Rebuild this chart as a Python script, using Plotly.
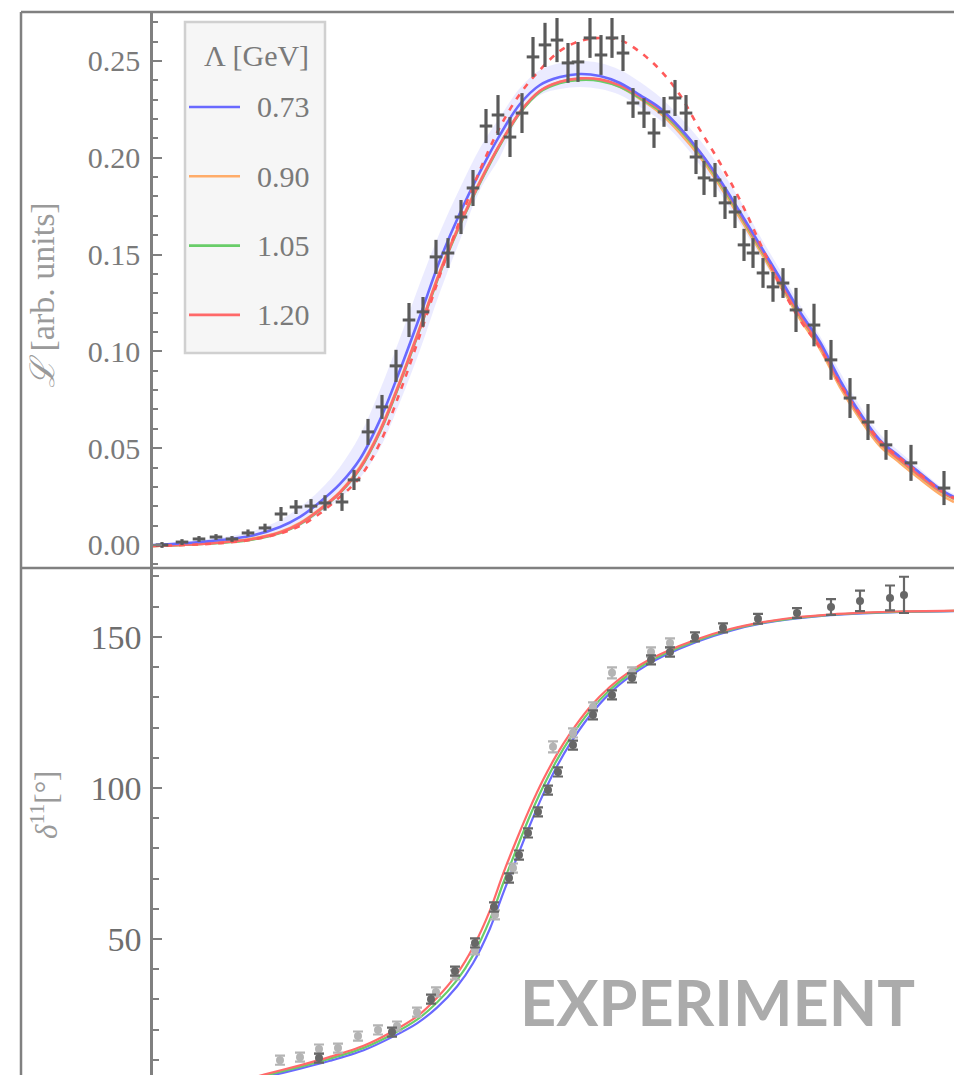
import plotly.graph_objects as go

# ---------------- top panel : line shape ----------------
E_top = [9, 29, 46, 63, 79, 95, 112, 128, 143, 158,
         172, 189, 201, 215, 229, 243, 256, 270, 283, 295,
         308, 320, 333, 345, 357, 369, 380, 392, 404, 415,
         425, 437, 448, 459, 470, 480, 491, 501, 511, 522,
         533, 543, 551, 562, 572, 582, 591, 600, 610, 620,
         630, 643, 661, 678, 697, 715, 733, 758, 791]
L_top = [0.0000, 0.0015, 0.0031, 0.0041, 0.0031, 0.0062, 0.0088, 0.0160, 0.0196, 0.0201,
         0.0217, 0.0222, 0.0336, 0.0584, 0.0713, 0.0925, 0.1162, 0.1204, 0.1488, 0.1508,
         0.1694, 0.1844, 0.2164, 0.2221, 0.2107, 0.2231, 0.2521, 0.2583, 0.2608, 0.2490,
         0.2495, 0.2619, 0.2531, 0.2619, 0.2541, 0.2283, 0.2231, 0.2128, 0.2237, 0.2309,
         0.2231, 0.2004, 0.1896, 0.1885, 0.1767, 0.1720, 0.1550, 0.1508, 0.1405, 0.1333,
         0.1353, 0.1214, 0.1136, 0.0956, 0.0759, 0.0635, 0.0517, 0.0424, 0.0294]
L_err = [0.0015, 0.0015, 0.0015, 0.0015, 0.0015, 0.0018, 0.0022, 0.0036, 0.0036, 0.0036,
         0.0040, 0.0046, 0.0052, 0.0067, 0.0062, 0.0083, 0.0088, 0.0077, 0.0088, 0.0077,
         0.0088, 0.0093, 0.0088, 0.0103, 0.0103, 0.0103, 0.0103, 0.0114, 0.0114, 0.0103,
         0.0103, 0.0103, 0.0103, 0.0103, 0.0093, 0.0077, 0.0077, 0.0077, 0.0077, 0.0093,
         0.0093, 0.0088, 0.0088, 0.0088, 0.0083, 0.0083, 0.0083, 0.0077, 0.0077, 0.0077,
         0.0077, 0.0114, 0.0110, 0.0103, 0.0103, 0.0093, 0.0077, 0.0093, 0.0088]

E_curve = [0, 47, 97, 127, 147, 167, 187, 207, 227, 247, 267, 287, 307, 327, 347, 367, 387, 407, 427,
           447, 467, 487, 507, 527, 547, 567, 587, 607, 627, 647, 667, 687, 707, 727, 747, 767, 787, 801]
L_073 = [0.0000, 0.0015, 0.0046, 0.0093, 0.0145, 0.0222, 0.0315, 0.0444, 0.0646, 0.0904, 0.1183, 0.1472,
         0.1715, 0.1927, 0.2118, 0.2278, 0.2376, 0.2417, 0.2433, 0.2422, 0.2386, 0.2324, 0.2257, 0.2154,
         0.2030, 0.1885, 0.1720, 0.1550, 0.1379, 0.1204, 0.1049, 0.0852, 0.0682, 0.0542, 0.0455, 0.0372,
         0.0289, 0.0248]
L_073_hi = [0.0005, 0.0026, 0.0067, 0.0129, 0.0196, 0.0284, 0.0403, 0.0568, 0.0801, 0.1069, 0.1353, 0.1617,
            0.1844, 0.2051, 0.2211, 0.2361, 0.2454, 0.2490, 0.2500, 0.2490, 0.2454, 0.2392, 0.2314, 0.2211,
            0.2092, 0.1947, 0.1782, 0.1596, 0.1420, 0.1240, 0.1080, 0.0894, 0.0718, 0.0573, 0.0480, 0.0393,
            0.0305, 0.0263]
L_073_lo = [-0.0005, 0.0005, 0.0026, 0.0062, 0.0098, 0.0165, 0.0243, 0.0346, 0.0501, 0.0739, 0.1007, 0.1307,
            0.1575, 0.1834, 0.2004, 0.2221, 0.2324, 0.2355, 0.2366, 0.2355, 0.2324, 0.2262, 0.2195, 0.2092,
            0.1963, 0.1818, 0.1658, 0.1493, 0.1327, 0.1162, 0.1012, 0.0811, 0.0646, 0.0511, 0.0429, 0.0351,
            0.0274, 0.0232]
L_090 = [-0.0005, 0.0005, 0.0031, 0.0067, 0.0114, 0.0186, 0.0274, 0.0403, 0.0594, 0.0847, 0.1126, 0.1415,
         0.1663, 0.1880, 0.2071, 0.2237, 0.2345, 0.2392, 0.2407, 0.2402, 0.2366, 0.2304, 0.2231, 0.2128,
         0.2004, 0.1854, 0.1689, 0.1519, 0.1343, 0.1167, 0.1012, 0.0816, 0.0651, 0.0511, 0.0424, 0.0341,
         0.0263, 0.0222]
L_105 = [-0.0005, 0.0005, 0.0026, 0.0062, 0.0108, 0.0181, 0.0269, 0.0393, 0.0584, 0.0837, 0.1116, 0.1405,
         0.1653, 0.1870, 0.2066, 0.2231, 0.2340, 0.2386, 0.2402, 0.2397, 0.2366, 0.2309, 0.2242, 0.2144,
         0.2020, 0.1870, 0.1705, 0.1534, 0.1358, 0.1183, 0.1028, 0.0832, 0.0666, 0.0527, 0.0439, 0.0356,
         0.0279, 0.0238]
L_120 = [-0.0005, 0.0005, 0.0028, 0.0064, 0.0110, 0.0183, 0.0271, 0.0396, 0.0589, 0.0842, 0.1121, 0.1410,
         0.1658, 0.1875, 0.2070, 0.2236, 0.2346, 0.2393, 0.2410, 0.2405, 0.2374, 0.2317, 0.2250, 0.2152,
         0.2028, 0.1878, 0.1712, 0.1540, 0.1362, 0.1186, 0.1030, 0.0834, 0.0667, 0.0528, 0.0440, 0.0357,
         0.0280, 0.0239]

E_dash = [0, 97, 147, 187, 207, 227, 247, 267, 287, 307, 327, 347, 367, 387, 407, 427, 447, 467,
          487, 507, 527, 547, 567, 587, 607, 627, 647, 667, 687, 707, 727, 747, 767, 787, 801]
L_dash = [-0.0005, 0.0026, 0.0098, 0.0248, 0.0351, 0.0527, 0.0790, 0.1085, 0.1395, 0.1679,
          0.1937, 0.2159, 0.2330, 0.2454, 0.2552, 0.2603, 0.2619, 0.2608, 0.2546, 0.2454,
          0.2324, 0.2144, 0.1973, 0.1782, 0.1560, 0.1343, 0.1162, 0.1018, 0.0832, 0.0677,
          0.0537, 0.0449, 0.0367, 0.0284, 0.0243]

# ---------------- bottom panel : phase shift ----------------
E_phase = [87, 112, 147, 177, 210, 240, 264, 284, 304, 320, 337, 350, 364, 377, 390,
           404, 417, 437, 457, 477, 497, 510, 544, 577, 610, 644, 677, 710, 744, 801]
d_073 = [2.2, 4.3, 7.1, 9.7, 13.1, 17.7, 22.1, 27.3, 34.3, 42.0, 53.5, 65.0, 77.0, 87.8, 97.8,
         107.2, 114.6, 124.0, 131.4, 136.9, 141.3, 143.6, 148.4, 152.0, 154.5, 156.1, 157.2, 157.8, 158.2, 158.5]
d_105 = [2.6, 4.8, 7.7, 10.4, 13.9, 18.6, 23.3, 29.0, 36.4, 44.6, 56.5, 68.3, 80.2, 90.8, 100.3,
         109.3, 116.4, 125.5, 132.5, 137.8, 142.0, 144.2, 148.8, 152.3, 154.7, 156.3, 157.3, 157.9, 158.3, 158.6]
d_120 = [3.0, 5.2, 8.2, 11.0, 14.6, 19.5, 24.4, 30.6, 38.5, 47.2, 59.5, 71.5, 83.2, 93.4, 102.6,
         111.2, 118.0, 126.8, 133.5, 138.6, 142.6, 144.7, 149.2, 152.6, 154.9, 156.5, 157.4, 158.0, 158.4, 158.7]

E_dark = [166, 239, 278, 302, 322, 341, 356, 366, 375, 385, 395, 405, 420, 440, 459, 479, 498,
          517, 542, 570, 605, 644, 678, 707, 737, 751]
d_dark = [10.6, 19.2, 30.1, 39.4, 48.7, 60.6, 70.2, 77.8, 85.1, 92.1, 99.3, 105.3, 114.2, 124.2,
          130.8, 136.4, 142.4, 145.0, 150.0, 153.0, 156.0, 157.9, 159.9, 161.9, 162.9, 163.9]
d_dark_err = [1.5, 1.5, 1.5, 1.5, 1.5, 1.5, 1.5, 1.5, 1.5, 1.5, 1.5, 1.5, 1.5, 1.5,
              1.5, 1.5, 1.5, 1.5, 1.5, 1.5, 1.6, 1.6, 2.6, 3.4, 4.1, 6.0]

E_light = [127, 147, 166, 185, 205, 225, 244, 264, 283, 302, 322, 342, 360, 400, 420, 440, 459, 479, 498, 517]
d_light = [9.9, 10.9, 13.6, 13.9, 17.9, 19.9, 21.2, 25.8, 32.5, 38.1, 46.4, 58.0, 73.5, 113.6,
           118.2, 126.8, 138.1, 138.4, 145.0, 148.0]
d_light_err = [1.5, 1.5, 1.5, 1.5, 1.5, 1.5, 1.5, 1.5, 1.5, 1.5, 1.5, 1.5, 1.5, 1.8,
               1.5, 1.5, 1.8, 1.5, 1.5, 1.5]

LEGEND_TITLE = "Λ [GeV]"
LAMBDAS = ["0.73", "0.90", "1.05", "1.20"]

# ---------------- styling ----------------
W, H = 954, 1075
ML, MT = 153, 12
PW, PH = W - ML, H - MT
SPLIT = 507 / PH            # bottom panel fraction
BLUE = "rgb(105,105,255)"
ORANGE = "rgb(255,172,105)"
GREEN = "rgb(105,205,105)"
RED = "rgb(255,105,105)"
COLORS = [BLUE, ORANGE, GREEN, RED]
AX = "#808080"
SERIF = "Liberation Serif, DejaVu Serif, serif"
PT = "#5a5a5a"
TXT = "#7a7a7a"


def px(xp):   # pixel column -> paper x
    return (xp - ML) / PW


def py(yp):   # pixel row -> paper y
    return (H - yp) / PH


fig = go.Figure()

# uncertainty band
fig.add_trace(go.Scatter(x=E_curve, y=L_073_hi, mode="lines", line=dict(width=0, shape="spline"),
                         showlegend=False, hoverinfo="skip", xaxis="x", yaxis="y"))
fig.add_trace(go.Scatter(x=E_curve, y=L_073_lo, mode="lines", line=dict(width=0, shape="spline"),
                         fill="tonexty", fillcolor="rgba(120,120,255,0.15)",
                         showlegend=False, hoverinfo="skip", xaxis="x", yaxis="y"))

for lab, ys, col in [(LAMBDAS[1], L_090, ORANGE), (LAMBDAS[2], L_105, GREEN),
                     (LAMBDAS[3], L_120, RED), (LAMBDAS[0], L_073, BLUE)]:
    fig.add_trace(go.Scatter(x=E_curve, y=ys, mode="lines", name=lab, showlegend=False,
                             line=dict(color=col, width=2.6, shape="spline"),
                             xaxis="x", yaxis="y"))

fig.add_trace(go.Scatter(x=E_dash, y=L_dash, mode="lines", showlegend=False,
                         line=dict(color="rgb(255,90,90)", width=2.6, dash="6px,7px", shape="spline"),
                         xaxis="x", yaxis="y"))

fig.add_trace(go.Scatter(x=E_top, y=L_top, mode="markers", showlegend=False,
                         marker=dict(symbol="line-ew-open", size=9, color=PT, line=dict(color=PT, width=3)),
                         error_y=dict(type="data", array=L_err, color=PT, thickness=3.2, width=0),
                         xaxis="x", yaxis="y"))

# bottom panel
for ys, col in [(d_073, BLUE), (d_105, GREEN), (d_120, RED)]:
    fig.add_trace(go.Scatter(x=E_phase, y=ys, mode="lines", showlegend=False,
                             line=dict(color=col, width=2.2, shape="spline", smoothing=0.8),
                             xaxis="x2", yaxis="y2"))

fig.add_trace(go.Scatter(x=E_light, y=d_light, mode="markers", showlegend=False,
                         marker=dict(symbol="circle", size=8, color="#b4b4b4"),
                         error_y=dict(type="data", array=d_light_err, color="#b4b4b4", thickness=2.2, width=5),
                         xaxis="x2", yaxis="y2"))
fig.add_trace(go.Scatter(x=E_dark, y=d_dark, mode="markers", showlegend=False,
                         marker=dict(symbol="circle", size=8, color="#676767"),
                         error_y=dict(type="data", array=d_dark_err, color="#676767", thickness=2.2, width=5),
                         xaxis="x2", yaxis="y2"))

# frame + legend box
shapes = [
    dict(type="line", xref="paper", yref="paper", x0=px(21), x1=1, y0=1, y1=1,
         line=dict(color=AX, width=2.5)),
    dict(type="line", xref="paper", yref="paper", x0=px(21), x1=1, y0=SPLIT, y1=SPLIT,
         line=dict(color=AX, width=2.5)),
    dict(type="line", xref="paper", yref="paper", x0=px(21), x1=px(21), y0=0, y1=1,
         line=dict(color=AX, width=2.5)),
    dict(type="rect", xref="paper", yref="paper", x0=px(185), x1=px(325), y0=py(353), y1=py(22),
         fillcolor="#f6f6f6", line=dict(color="#d0d0d0", width=2.5), layer="above"),
]
annotations = [
    dict(text=LEGEND_TITLE, xref="paper", yref="paper", x=px(256), y=py(55), showarrow=False,
         xanchor="center", yanchor="middle", font=dict(family=SERIF, size=30, color=TXT)),
]
for i, (lab, col) in enumerate(zip(LAMBDAS, COLORS)):
    yc = 107 + i * 69.3
    shapes.append(dict(type="line", xref="paper", yref="paper", x0=px(189), x1=px(240),
                       y0=py(yc), y1=py(yc), line=dict(color=col, width=2.6), layer="above"))
    annotations.append(dict(text=lab, xref="paper", yref="paper", x=px(255), y=py(yc),
                            showarrow=False, xanchor="left", yanchor="middle",
                            font=dict(family=SERIF, size=30, color=TXT)))

annotations += [
    dict(text="<i>ℒ</i> [arb. units]", xref="paper", yref="paper", x=px(42),
         y=py(295), textangle=-90, showarrow=False, xanchor="center", yanchor="middle",
         font=dict(family=SERIF, size=34, color="#9a9a9a")),
    dict(text="<i>δ</i><sup>11</sup>[°]", xref="paper", yref="paper", x=px(44),
         y=py(805), textangle=-90, showarrow=False, xanchor="center", yanchor="middle",
         font=dict(family=SERIF, size=31, color="#9a9a9a")),
    dict(text="<b>EXPERIMENT</b>", xref="paper", yref="paper", x=px(717),
         y=py(1001), showarrow=False, xanchor="center", yanchor="middle",
         font=dict(family="Lato, Open Sans, sans-serif", size=63, color="#ababab")),
]

xcommon = dict(range=[0, PW], showticklabels=False, ticks="", showgrid=False, zeroline=False,
               showline=False, fixedrange=True)
fig.update_layout(
    width=W, height=H,
    margin=dict(l=ML, r=0, t=MT, b=0, pad=0),
    paper_bgcolor="white", plot_bgcolor="white",
    showlegend=False,
    xaxis=dict(anchor="y", domain=[0, 1], **xcommon),
    xaxis2=dict(anchor="y2", domain=[0, 1], **xcommon),
    yaxis=dict(domain=[SPLIT, 1], anchor="x", range=[-0.0119, 0.2753], tick0=0, dtick=0.05,
               tickformat=".2f", ticks="inside", ticklen=9, tickwidth=2, tickcolor=AX,
               minor=dict(dtick=0.01, ticks="inside", ticklen=5, tickwidth=2, tickcolor=AX),
               showline=True, linewidth=2.5, linecolor=AX, showgrid=False, zeroline=False,
               ticklabelstandoff=4,
               tickfont=dict(family=SERIF, size=30, color=TXT)),
    yaxis2=dict(domain=[0, SPLIT], anchor="x2", range=[5.0, 172.8], tickvals=[50, 100, 150],
                ticks="inside", ticklen=9, tickwidth=2, tickcolor=AX,
                minor=dict(dtick=10, ticks="inside", ticklen=6, tickwidth=2, tickcolor=AX),
                showline=True, linewidth=2.5, linecolor=AX, showgrid=False, zeroline=False,
                ticklabelstandoff=2,
                tickfont=dict(family=SERIF, size=34, color="#6e6e6e")),
    shapes=shapes,
    annotations=annotations,
)

fig.write_html("out.html")
